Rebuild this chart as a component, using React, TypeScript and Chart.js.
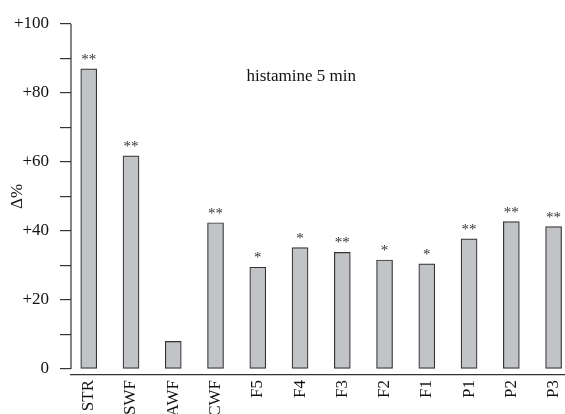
import { useEffect, useRef } from 'react';
import { Chart, registerables } from 'chart.js';

Chart.register(...registerables);

const categories = ['STR', 'SWF', 'AWF', 'CWF', 'F5', 'F4', 'F3', 'F2', 'F1', 'P1', 'P2', 'P3'];
const values = [87, 61.8, 8, 42.4, 29.5, 35.2, 33.8, 31.6, 30.5, 37.7, 42.7, 41.3];
const significance = ['**', '**', '', '**', '*', '*', '**', '*', '*', '**', '**', '**'];
const yTickValues = [0, 10, 20, 30, 40, 50, 60, 70, 80, 90, 100];
const chartTitle = 'histamine 5 min';
const yAxisTitle = 'Δ%';

const FONT = '"Liberation Serif", "Times New Roman", serif';

const annotate = {
  id: 'annotate',
  afterDraw(chart: any) {
    const { ctx, chartArea, scales } = chart;
    const y = scales.y;
    const meta = chart.getDatasetMeta(0);
    ctx.save();
    // y axis line from 0 to 100
    ctx.strokeStyle = '#333';
    ctx.lineWidth = 1.2;
    ctx.beginPath();
    ctx.moveTo(chartArea.left, y.getPixelForValue(100));
    ctx.lineTo(chartArea.left, y.getPixelForValue(0));
    ctx.stroke();

    // significance stars
    ctx.fillStyle = '#333';
    ctx.font = `15px ${FONT}`;
    ctx.textAlign = 'center';
    ctx.textBaseline = 'alphabetic';
    meta.data.forEach((bar: any, i: number) => {
      if (significance[i]) ctx.fillText(significance[i], bar.x, bar.y - 5);
    });

    // inner title
    ctx.fillStyle = '#111';
    ctx.font = `17px ${FONT}`;
    ctx.fillText(chartTitle, chartArea.left + (chartArea.right - chartArea.left) * 0.466, y.getPixelForValue(83.6));

    // y axis title
    ctx.save();
    ctx.translate(chartArea.left - 53.5, (y.getPixelForValue(100) + y.getPixelForValue(0)) / 2);
    ctx.rotate(-Math.PI / 2);
    ctx.textBaseline = 'middle';
    ctx.font = `17px ${FONT}`;
    ctx.fillText(yAxisTitle, 0, 0);
    ctx.restore();
    ctx.restore();
  },
};

const zeroPadding = (s: any) => {
  s.paddingLeft = 0;
  s.paddingRight = 0;
  s.paddingTop = 0;
  s.paddingBottom = 0;
};

export default function App() {
  const ref = useRef<HTMLCanvasElement>(null);
  useEffect(() => {
    document.body.style.margin = '0';
    const chart = new Chart(ref.current!, {
      type: 'bar',
      data: {
        datasets: [
          {
            data: values.map((v, i) => ({ x: i, y: v })),
            backgroundColor: '#c1c3c7',
            borderColor: '#333',
            borderWidth: 1.2,
            borderSkipped: false,
            barThickness: 16,
          },
        ],
      },
      options: {
        animation: false,
        responsive: false,
        devicePixelRatio: 1,
        layout: { padding: { top: 24, left: 0, right: 0, bottom: 0 }, autoPadding: false },
        plugins: { legend: { display: false }, tooltip: { enabled: false }, title: { display: false } },
        scales: {
          x: {
            type: 'linear',
            offset: false,
            min: -0.42,
            max: 11.27,
            afterBuildTicks: (s: any) => {
              s.ticks = categories.map((_, i) => ({ value: i }));
            },
            afterFit: (s: any) => {
              s.height = 39;
              zeroPadding(s);
            },
            grid: { display: false, drawTicks: false },
            border: { display: true, color: '#333', width: 1.2 },
            ticks: {
              autoSkip: false,
              minRotation: 90,
              maxRotation: 90,
              padding: 5,
              color: '#111',
              font: { family: FONT, size: 17 },
              callback: (v: any) => categories[v] ?? '',
            },
          },
          y: {
            min: -1.74,
            max: 100,
            afterBuildTicks: (s: any) => {
              s.ticks = yTickValues.map((v) => ({ value: v }));
            },
            afterFit: (s: any) => {
              s.width = 71;
              zeroPadding(s);
            },
            grid: { display: true, drawOnChartArea: false, drawTicks: true, tickLength: 11, color: '#333', lineWidth: 1.2 },
            border: { display: false },
            ticks: {
              padding: 11,
              color: '#111',
              font: { family: FONT, size: 17 },
              callback: (v: any) => (v % 20 === 0 ? (v === 0 ? '0' : '+' + v) : ''),
            },
          },
        },
      },
      plugins: [annotate],
    } as any);
    return () => chart.destroy();
  }, []);
  return (
    <div style={{ width: 565, height: 414, overflow: 'hidden' }}>
      <canvas ref={ref} width={565} height={414} style={{ display: 'block' }} />
    </div>
  );
}
